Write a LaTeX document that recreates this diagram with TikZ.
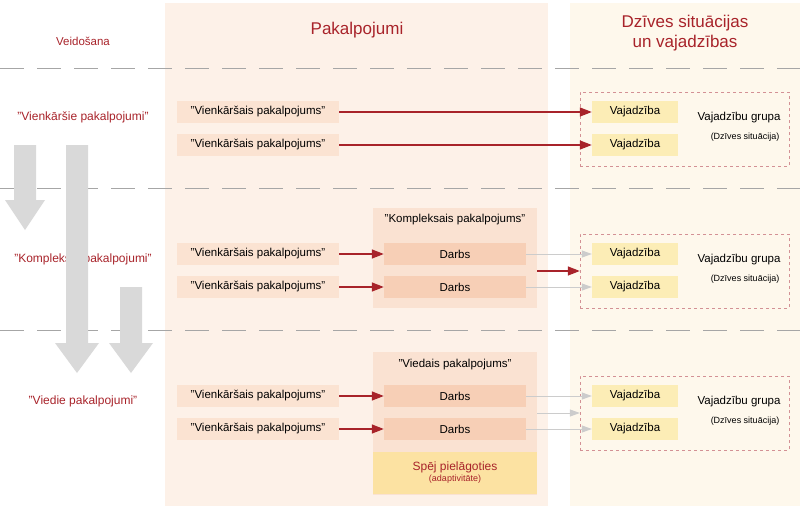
\documentclass[tikz,border=0pt]{standalone}
\usepackage{fontspec}
\setmainfont{Liberation Sans}
\usetikzlibrary{arrows.meta}
\definecolor{red1}{HTML}{A8232A}
\definecolor{colA}{HTML}{FDF1E8}
\definecolor{colB}{HTML}{FEF8EC}
\definecolor{simp}{HTML}{FBE3D2}
\definecolor{cont}{HTML}{FAE2D2}
\definecolor{darbs}{HTML}{F7CFB6}
\definecolor{vaj}{HTML}{FCEDB6}
\definecolor{spej}{HTML}{FCE2A2}
\begin{document}
\begin{tikzpicture}[x=1pt,y=-1pt,
 simple/.style={fill=simp,minimum width=162pt,minimum height=22pt,inner sep=0pt,font=\fontsize{11.5}{12}\selectfont},
 darbs/.style={fill=darbs,minimum width=142pt,minimum height=22pt,inner sep=0pt,font=\fontsize{11.5}{12}\selectfont},
 vaj/.style={fill=vaj,minimum width=86pt,minimum height=22pt,inner sep=0pt,font=\fontsize{11.5}{12}\selectfont},
 grp/.style={draw=red1!50,dashed,minimum width=209pt,minimum height=74pt,inner sep=0pt},
 ra/.style={red1,line width=1.4pt,-{Triangle[length=12pt,width=9pt]}},
 ga/.style={black!20,line width=0.8pt,-{Triangle[length=10pt,width=7pt]}},
 lab/.style={text=red1,font=\fontsize{12}{13}\selectfont},
 blk/.style={fill=black!15,draw=none}]
\useasboundingbox (0,0) rectangle (800,506);
\fill[colA] (165,3) rectangle (548,506);
\fill[colB] (570,3) rectangle (800,506);
\foreach \y in {68,188,330} \draw[black!35,line width=1pt,dash pattern=on 24pt off 13pt] (0,\y)--(800,\y);
\node[lab,font=\fontsize{11.5}{12}\selectfont] (t1) at (83,41) {Veidošana};
\node[lab,font=\fontsize{17}{18}\selectfont] (t2) at (357,30) {Pakalpojumi};
\node[lab,font=\fontsize{17}{20}\selectfont,align=center] (t3) at (685,33) {Dzīves situācijas\\un vajadzības};
\node[lab] (l1) at (83,117) {"Vienkāršie pakalpojumi"};
\node[lab] (l2) at (83,259) {"Kompleksie pakalpojumi"};
\node[lab] (l3) at (83,401) {"Viedie pakalpojumi"};
% block arrows
\fill[blk] (14,145)--(36,145)--(36,200)--(45,200)--(25,230)--(5,200)--(14,200)--cycle;
\fill[blk] (66,145)--(88,145)--(88,343)--(99,343)--(77,373)--(55,343)--(66,343)--cycle;
\fill[blk] (120,287)--(142,287)--(142,343)--(153,343)--(131,373)--(109,343)--(120,343)--cycle;
% containers
\node[fill=cont,minimum width=164pt,minimum height=100pt,inner sep=0pt] (c2) at (455,258) {};
\node[font=\fontsize{11.5}{12}\selectfont] (c2t) at (455,220) {"Kompleksais pakalpojums"};
\node[fill=cont,minimum width=164pt,minimum height=143pt,inner sep=0pt] (c3) at (455,423.5) {};
\node[font=\fontsize{11.5}{12}\selectfont] (c3t) at (455,365) {"Viedais pakalpojums"};
\node[fill=spej,minimum width=164pt,minimum height=42pt,inner sep=0pt,align=center,text=red1] (sp) at (455,473) {{\fontsize{12}{14}\selectfont Spēj pielāgoties}\\[-1pt]{\fontsize{9}{10}\selectfont (adaptivitāte)}};
% simple nodes
\node[simple] (s1) at (258,112) {"Vienkāršais pakalpojums"};
\node[simple] (s2) at (258,145) {"Vienkāršais pakalpojums"};
\node[simple] (s3) at (258,254) {"Vienkāršais pakalpojums"};
\node[simple] (s4) at (258,287) {"Vienkāršais pakalpojums"};
\node[simple] (s5) at (258,396) {"Vienkāršais pakalpojums"};
\node[simple] (s6) at (258,429) {"Vienkāršais pakalpojums"};
\node[darbs] (d1) at (455,254) {Darbs};
\node[darbs] (d2) at (455,287) {Darbs};
\node[darbs] (d3) at (455,396) {Darbs};
\node[darbs] (d4) at (455,429) {Darbs};
% groups
\foreach \i/\y in {1/129,2/271,3/413}{
 \node[grp] (g\i) at (684.5,\y) {};
 \node[font=\fontsize{11.5}{12}\selectfont] (gt\i) at (739,\y-11) {Vajadzību grupa};
 \node[font=\fontsize{9}{10}\selectfont] (gs\i) at (745,\y+8) {(Dzīves situācija)};
}
\node[vaj] (v1) at (635,112) {Vajadzība};
\node[vaj] (v2) at (635,145) {Vajadzība};
\node[vaj] (v3) at (635,254) {Vajadzība};
\node[vaj] (v4) at (635,287) {Vajadzība};
\node[vaj] (v5) at (635,396) {Vajadzība};
\node[vaj] (v6) at (635,429) {Vajadzība};
% arrows
\draw[ra] (s1)--(v1);
\draw[ra] (s2)--(v2);
\draw[ra] (s3)--(d1);
\draw[ra] (s4)--(d2);
\draw[ra] (s5)--(d3);
\draw[ra] (s6)--(d4);
\draw[ga] (d1)--(v3);
\draw[ga] (d2)--(v4);
\draw[ga] (d3)--(v5);
\draw[ga] (d4)--(v6);
\draw[ra] (c2.east|-g2.west)--(g2.west);
\draw[ga] (c3.east|-g3.west)--(g3.west);
\end{tikzpicture}
\end{document}
